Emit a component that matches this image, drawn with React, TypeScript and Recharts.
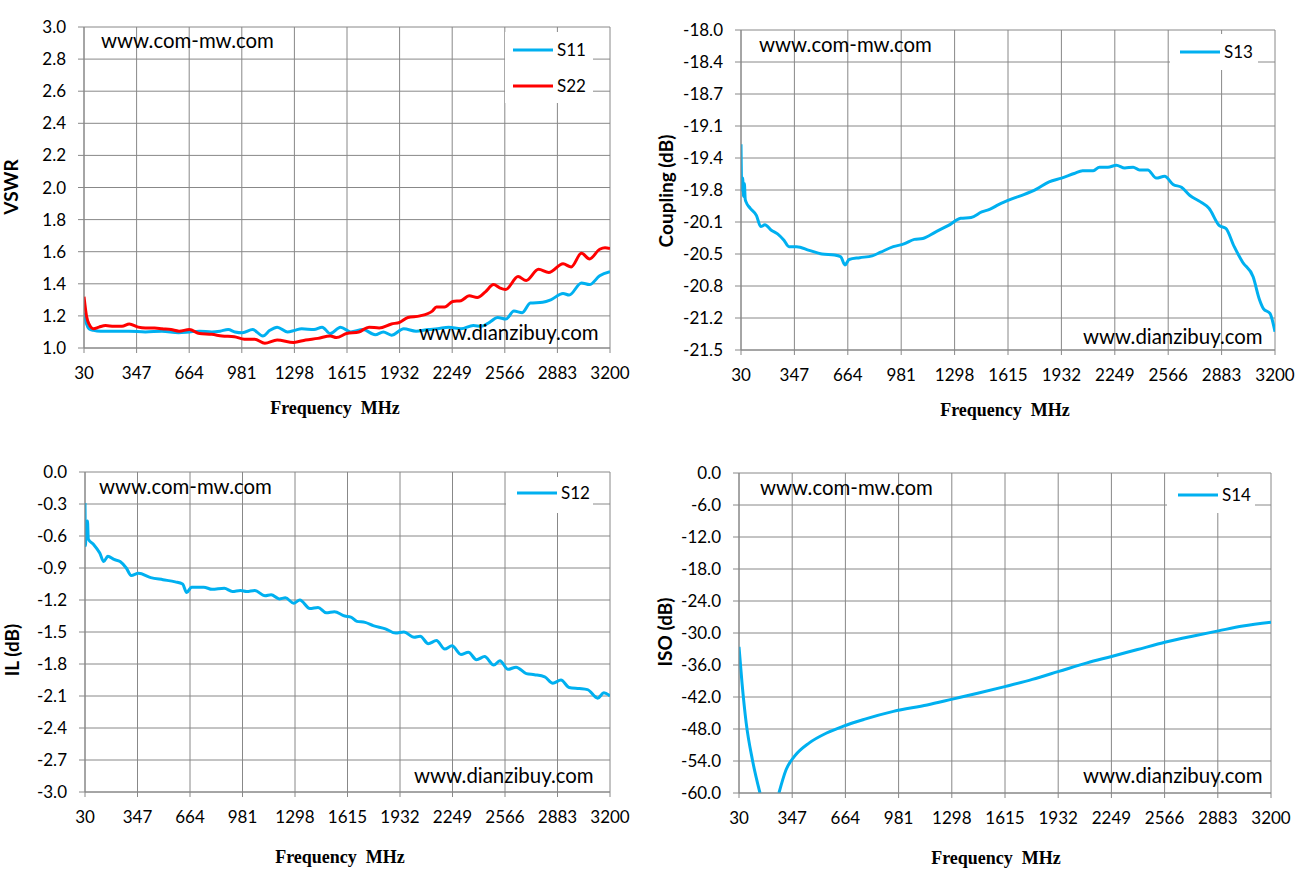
import React from 'react';
import { LineChart, Line, XAxis, YAxis, CartesianGrid } from 'recharts';

// ---------- data ----------
const FREQ_TICKS = [30, 347, 664, 981, 1298, 1615, 1932, 2249, 2566, 2883, 3200];

const VSWR_TICKS = [1.0, 1.2, 1.4, 1.6, 1.8, 2.0, 2.2, 2.4, 2.6, 2.8, 3.0];
const COUPLING_TICKS = [-21.5, -21.15, -20.8, -20.45, -20.1, -19.75, -19.4, -19.05, -18.7, -18.35, -18.0];
const COUPLING_LABELS = ['-21.5', '-21.2', '-20.8', '-20.5', '-20.1', '-19.8', '-19.4', '-19.1', '-18.7', '-18.4', '-18.0'];
const IL_TICKS = [-3.0, -2.7, -2.4, -2.1, -1.8, -1.5, -1.2, -0.9, -0.6, -0.3, 0.0];
const ISO_TICKS = [-60, -54, -48, -42, -36, -30, -24, -18, -12, -6, 0];

// [frequency MHz, value]
const S11: [number, number][] = [
  [30, 1.22], [45, 1.15], [60, 1.12], [87, 1.11], [130, 1.105], [200, 1.105], [300, 1.105],
  [400, 1.1], [500, 1.105], [600, 1.095], [665, 1.1], [726, 1.105], [800, 1.1], [850, 1.105],
  [899, 1.115], [940, 1.1], [985, 1.095], [1046, 1.115], [1108, 1.075], [1150, 1.11], [1194, 1.13],
  [1256, 1.1], [1300, 1.11], [1342, 1.12], [1416, 1.115], [1465, 1.13], [1514, 1.09], [1576, 1.13],
  [1637, 1.1], [1711, 1.115], [1785, 1.083], [1834, 1.1], [1883, 1.08], [1957, 1.12], [2031, 1.105],
  [2105, 1.115], [2160, 1.12], [2228, 1.13], [2302, 1.12], [2376, 1.14], [2425, 1.135], [2474, 1.16],
  [2523, 1.19], [2572, 1.18], [2621, 1.23], [2671, 1.22], [2720, 1.28], [2794, 1.285], [2843, 1.3],
  [2917, 1.34], [2954, 1.33], [3028, 1.405], [3077, 1.395], [3138, 1.45], [3200, 1.475],
];

const S22: [number, number][] = [
  [30, 1.32], [45, 1.2], [60, 1.15], [87, 1.12], [120, 1.13], [160, 1.14], [210, 1.135],
  [259, 1.135], [303, 1.15], [357, 1.13], [400, 1.125], [456, 1.125], [500, 1.12], [554, 1.115],
  [603, 1.105], [665, 1.115], [726, 1.09], [800, 1.085], [862, 1.075], [936, 1.07], [997, 1.055],
  [1059, 1.055], [1120, 1.03], [1194, 1.05], [1293, 1.035], [1366, 1.05], [1440, 1.06], [1514, 1.075],
  [1551, 1.065], [1612, 1.09], [1686, 1.1], [1748, 1.13], [1809, 1.125], [1883, 1.15], [1932, 1.16],
  [1982, 1.19], [2055, 1.2], [2129, 1.23], [2154, 1.255], [2203, 1.255], [2252, 1.29], [2302, 1.295],
  [2351, 1.325], [2400, 1.315], [2449, 1.35], [2498, 1.395], [2535, 1.375], [2572, 1.365],
  [2646, 1.445], [2695, 1.42], [2769, 1.49], [2831, 1.47], [2917, 1.525], [2966, 1.505],
  [3028, 1.59], [3077, 1.555], [3138, 1.615], [3170, 1.625], [3200, 1.62],
];

const S13: [number, number][] = [
  [30, -19.25], [35, -19.75], [40, -19.62], [45, -19.82], [50, -19.68], [55, -19.85], [60, -19.88],
  [85, -19.95], [122, -20.03], [147, -20.15], [172, -20.13], [210, -20.19], [247, -20.23], [285, -20.3],
  [315, -20.37], [360, -20.37], [435, -20.41], [510, -20.45], [585, -20.46], [622, -20.48], [647, -20.57],
  [672, -20.51], [735, -20.49], [809, -20.47], [859, -20.43], [934, -20.37], [997, -20.34], [1059, -20.29],
  [1109, -20.28], [1184, -20.21], [1259, -20.14], [1334, -20.06], [1396, -20.05], [1459, -19.99],
  [1509, -19.96], [1559, -19.91], [1634, -19.85], [1709, -19.8], [1784, -19.74], [1859, -19.66],
  [1933, -19.62], [2008, -19.57], [2058, -19.54], [2121, -19.54], [2158, -19.5], [2208, -19.5],
  [2258, -19.48], [2308, -19.51], [2358, -19.5], [2395, -19.53], [2445, -19.53], [2495, -19.62],
  [2545, -19.6], [2595, -19.69], [2645, -19.72], [2695, -19.81], [2758, -19.88], [2808, -19.95],
  [2870, -20.14], [2908, -20.17], [2958, -20.37], [3008, -20.54], [3070, -20.7], [3108, -20.95],
  [3132, -21.05], [3170, -21.1], [3200, -21.3],
];

const S12: [number, number][] = [
  [30, -0.29], [33, -0.69], [37, -0.51], [41, -0.62], [45, -0.46], [50, -0.63], [82, -0.68],
  [119, -0.76], [143, -0.84], [168, -0.79], [205, -0.82], [242, -0.84], [279, -0.9], [309, -0.97],
  [353, -0.95], [427, -0.99], [501, -1.01], [575, -1.03], [619, -1.05], [644, -1.13], [673, -1.08],
  [747, -1.08], [797, -1.1], [871, -1.09], [920, -1.12], [969, -1.11], [1006, -1.12], [1055, -1.11],
  [1117, -1.16], [1154, -1.15], [1203, -1.19], [1240, -1.18], [1290, -1.23], [1327, -1.2],
  [1388, -1.28], [1437, -1.27], [1487, -1.32], [1536, -1.31], [1598, -1.35], [1635, -1.36],
  [1672, -1.4], [1721, -1.41], [1770, -1.44], [1844, -1.47], [1906, -1.51], [1955, -1.5],
  [2017, -1.55], [2054, -1.54], [2103, -1.61], [2152, -1.58], [2202, -1.66], [2246, -1.63],
  [2300, -1.71], [2345, -1.69], [2394, -1.76], [2443, -1.73], [2498, -1.81], [2535, -1.77],
  [2584, -1.85], [2633, -1.83], [2695, -1.89], [2744, -1.9], [2806, -1.92], [2855, -1.98],
  [2904, -1.95], [2953, -2.02], [3015, -2.03], [3064, -2.04], [3126, -2.12], [3163, -2.07], [3200, -2.1],
];

const S14: [number, number | null][] = [
  [30, -32.6], [48, -39.4], [73, -46.9], [110, -53.8], [155, -60], [210, null],
  [268, -60], [311, -55.6], [361, -53.1], [449, -50.6], [549, -48.8], [649, -47.5], [775, -46.2],
  [950, -44.7], [1151, -43.5], [1302, -42.4], [1452, -41.3], [1620, -40.0], [1778, -38.7],
  [1936, -37.2], [2104, -35.6], [2250, -34.4], [2405, -33.1], [2573, -31.7], [2731, -30.6],
  [2887, -29.6], [3032, -28.7], [3200, -28.0],
];

// ---------- styling ----------
const CYAN = '#00B0F0';
const RED = '#FF0000';
const GRID = '#888888';
const TICK_FONT = { fill: '#000', fontSize: 17, fontFamily: 'Lato' };

const toRows = (pts: [number, number | null][]) => pts.map(([f, v]) => ({ f, v }));

type PanelProps = {
  left: number; top: number; width: number; height: number;
  margin: { top: number; right: number; left: number; bottom: number };
  yDomain: [number, number]; yTicks: number[];
  yFormat: (v: number) => string;
  series: { data: [number, number | null][]; color: string; name: string }[];
};

function Panel(p: PanelProps) {
  return (
    <div style={{ position: 'absolute', left: p.left, top: p.top }}>
      <LineChart width={p.width} height={p.height} margin={p.margin}>
        <CartesianGrid stroke={GRID} strokeWidth={1} />
        <XAxis
          type="number" dataKey="f" domain={[30, 3200]} ticks={FREQ_TICKS} interval={0}
          allowDataOverflow height={40} tickSize={5} tickMargin={14}
          axisLine={{ stroke: GRID }} tickLine={{ stroke: GRID }} tick={TICK_FONT}
        />
        <YAxis
          type="number" domain={p.yDomain} ticks={p.yTicks} interval={0} allowDataOverflow
          width={60} tickSize={6} tickMargin={12} tickFormatter={p.yFormat}
          axisLine={{ stroke: GRID }} tickLine={{ stroke: GRID }} tick={TICK_FONT}
        />
        {p.series.map((s) => (
          <Line
            key={s.name} name={s.name} data={toRows(s.data)} dataKey="v" type="monotone"
            stroke={s.color} strokeWidth={3} dot={false} activeDot={false}
            isAnimationActive={false} connectNulls={false}
          />
        ))}
      </LineChart>
    </div>
  );
}

const WM_FONT = { fontFamily: 'Lato', fontSize: 20.4, fill: '#000' };
const TITLE_FONT = { fontFamily: 'Liberation Serif', fontSize: 18, fontWeight: 700, fill: '#000' };
const YTITLE_FONT = { fontFamily: 'Lato', fontSize: 19, fontWeight: 700, fill: '#000' };
const LEG_FONT = { fontFamily: 'Lato', fontSize: 17, fill: '#000' };

function LegendBox({ x, y, w, h, items }: { x: number; y: number; w: number; h: number; items: { name: string; color: string; lx: number; ly: number }[] }) {
  return (
    <g>
      <rect x={x} y={y} width={w} height={h} fill="#fff" />
      {items.map((it) => (
        <g key={it.name}>
          <line x1={it.lx} x2={it.lx + 40} y1={it.ly} y2={it.ly} stroke={it.color} strokeWidth={3} />
          <text x={it.lx + 44} y={it.ly + 6} {...LEG_FONT}>{it.name}</text>
        </g>
      ))}
    </g>
  );
}

function YTitle({ cx, cy, text }: { cx: number; cy: number; text: string }) {
  return (
    <text transform={`translate(${cx},${cy}) rotate(-90)`} textAnchor="middle" dominantBaseline="central" {...YTITLE_FONT}>
      {text}
    </text>
  );
}

export default function App() {
  const fmt1 = (v: number) => v.toFixed(1);
  const fmtCoupling = (v: number) => {
    const i = COUPLING_TICKS.findIndex((t) => Math.abs(t - v) < 1e-6);
    return i >= 0 ? COUPLING_LABELS[i] : v.toFixed(1);
  };
  return (
    <div style={{ position: 'absolute', left: 0, top: 0, width: 1301, height: 876, background: '#fff', overflow: 'hidden' }}>
      <Panel
        left={0} top={0} width={640} height={430}
        margin={{ top: 27, right: 30, left: 24, bottom: 42 }}
        yDomain={[1, 3]} yTicks={VSWR_TICKS} yFormat={fmt1}
        series={[{ data: S11, color: CYAN, name: 'S11' }, { data: S22, color: RED, name: 'S22' }]}
      />
      <Panel
        left={650} top={0} width={651} height={430}
        margin={{ top: 30, right: 26, left: 31, bottom: 40 }}
        yDomain={[-21.5, -18]} yTicks={COUPLING_TICKS} yFormat={fmtCoupling}
        series={[{ data: S13, color: CYAN, name: 'S13' }]}
      />
      <Panel
        left={0} top={440} width={640} height={436}
        margin={{ top: 32, right: 30, left: 25, bottom: 44 }}
        yDomain={[-3, 0]} yTicks={IL_TICKS} yFormat={fmt1}
        series={[{ data: S12, color: CYAN, name: 'S12' }]}
      />
      <Panel
        left={650} top={440} width={651} height={436}
        margin={{ top: 33, right: 30, left: 29, bottom: 43 }}
        yDomain={[-60, 0]} yTicks={ISO_TICKS} yFormat={fmt1}
        series={[{ data: S14, color: CYAN, name: 'S14' }]}
      />
      <svg width={1301} height={876} style={{ position: 'absolute', left: 0, top: 0, pointerEvents: 'none' }}>
        {/* legends */}
        <LegendBox x={505} y={32} w={88} h={71} items={[
          { name: 'S11', color: CYAN, lx: 513, ly: 50 },
          { name: 'S22', color: RED, lx: 513, ly: 86 },
        ]} />
        <LegendBox x={1170} y={34} w={88} h={36} items={[{ name: 'S13', color: CYAN, lx: 1180, ly: 52 }]} />
        <LegendBox x={506} y={477} w={87} h={36} items={[{ name: 'S12', color: CYAN, lx: 517, ly: 493 }]} />
        <LegendBox x={1167} y={477} w={88} h={36} items={[{ name: 'S14', color: CYAN, lx: 1178, ly: 495 }]} />

        {/* watermarks */}
        <text x={101} y={48} {...WM_FONT}>www.com-mw.com</text>
        <text x={419} y={340} {...WM_FONT}>www.dianzibuy.com</text>
        <text x={759} y={52} {...WM_FONT}>www.com-mw.com</text>
        <text x={1083} y={344} {...WM_FONT}>www.dianzibuy.com</text>
        <text x={99} y={494} {...WM_FONT}>www.com-mw.com</text>
        <text x={414} y={783} {...WM_FONT}>www.dianzibuy.com</text>
        <text x={760} y={495} {...WM_FONT}>www.com-mw.com</text>
        <text x={1083} y={783} {...WM_FONT}>www.dianzibuy.com</text>

        {/* axis titles */}
        <text x={335} y={414} textAnchor="middle" {...TITLE_FONT} style={{ whiteSpace: 'pre' }}>{'Frequency  MHz'}</text>
        <text x={1005} y={416} textAnchor="middle" {...TITLE_FONT} style={{ whiteSpace: 'pre' }}>{'Frequency  MHz'}</text>
        <text x={340} y={863} textAnchor="middle" {...TITLE_FONT} style={{ whiteSpace: 'pre' }}>{'Frequency  MHz'}</text>
        <text x={996} y={864} textAnchor="middle" {...TITLE_FONT} style={{ whiteSpace: 'pre' }}>{'Frequency  MHz'}</text>

        <YTitle cx={10} cy={187} text="VSWR" />
        <YTitle cx={665} cy={191} text="Coupling (dB)" />
        <YTitle cx={11} cy={650} text="IL (dB)" />
        <YTitle cx={664} cy={632} text="ISO (dB)" />
      </svg>
    </div>
  );
}
